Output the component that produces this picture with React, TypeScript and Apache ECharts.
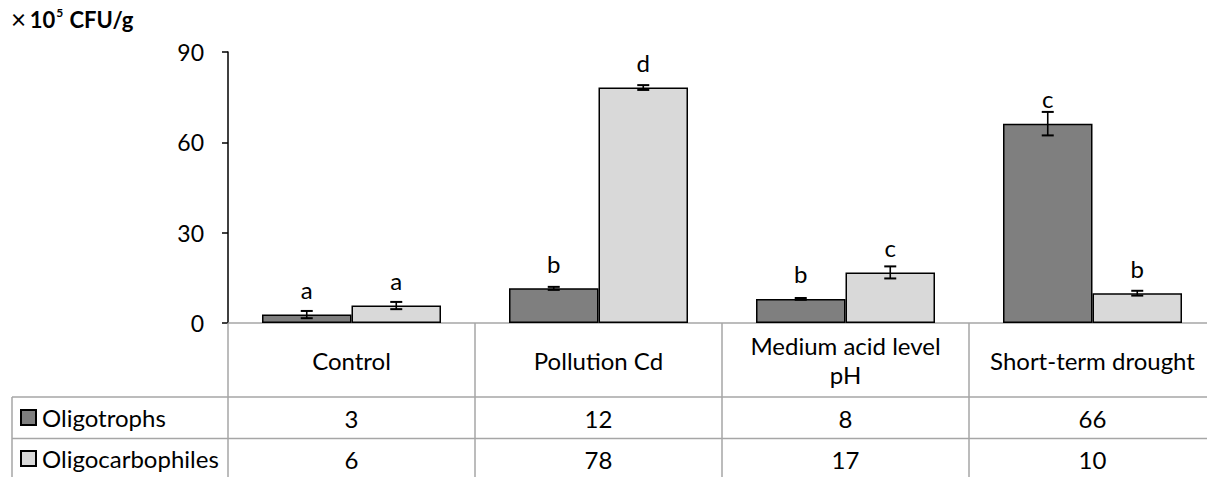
import React, { useEffect, useRef } from "react";
import * as echarts from "echarts";

const categories = ["Control", "Pollution Cd", "Medium acid level\npH", "Short-term drought"];
const seriesNames = ["Oligotrophs", "Oligocarbophiles"];
const oligotrophs = [2.8, 11.5, 8.0, 66.2];
const oligocarbophiles = [5.8, 78.2, 16.8, 9.9];
const errOligotrophs = [1.2, 0.5, 0.3, 3.9];
const errOligocarbophiles = [1.2, 0.8, 2.0, 0.8];
const lettersOligotrophs = ["a", "b", "b", "c"];
const lettersOligocarbophiles = ["a", "d", "c", "b"];
const yTicks = { min: 0, max: 90, interval: 30 };

const FONT = "Lato";
const GRAY = "#a6a6a6";
const DARK = "#7f7f7f";
const LIGHT = "#d9d9d9";
const TABLE_FS = 24;
const CHART_W = 1232;

function errorSeries(values: number[], errs: number[], side: number) {
  return {
    type: "custom",
    z: 5,
    silent: true,
    data: values.map((v, i) => [i, v, errs[i]]),
    encode: { x: 0, y: 1 },
    renderItem: (params: any, api: any) => {
      const idx = api.value(0);
      const v = api.value(1);
      const e = api.value(2);
      const c = api.coord([idx, v]);
      const catW = api.size([1, 0])[0];
      const x = c[0] + side * catW * 0.1812;
      const yt = api.coord([idx, v + e])[1];
      const yb = api.coord([idx, v - e])[1];
      const hw = 6;
      const st = { stroke: "#000", lineWidth: 1.6 };
      const cap = { stroke: "#000", lineWidth: 2 };
      return {
        type: "group",
        children: [
          { type: "line", shape: { x1: x, y1: yt, x2: x, y2: yb }, style: st },
          { type: "line", shape: { x1: x - hw, y1: yt, x2: x + hw, y2: yt }, style: cap },
          { type: "line", shape: { x1: x - hw, y1: yb, x2: x + hw, y2: yb }, style: cap },
        ],
      };
    },
  };
}

function valueAxis(values: number[], margin: number) {
  return {
    type: "category",
    gridIndex: 0,
    position: "bottom",
    data: categories,
    axisLine: { show: false },
    axisTick: { show: false },
    splitLine: { show: false },
    axisLabel: {
      interval: 0,
      margin,
      verticalAlign: "middle",
      fontFamily: FONT,
      fontSize: TABLE_FS,
      color: "#000",
      formatter: (_v: string, idx: number) => String(Math.round(values[idx])),
    },
  };
}

export default function App() {
  const ref = useRef<HTMLDivElement>(null);
  useEffect(() => {
    if (!ref.current) return;
    const chart = echarts.init(ref.current, undefined, { renderer: "svg" });
    const legendCommon = {
      orient: "vertical",
      left: 20,
      padding: 0,
      itemWidth: 15,
      itemHeight: 15,
      icon: "rect",
      selectedMode: false,
      textStyle: { fontFamily: FONT, fontSize: TABLE_FS, color: "#000", lineHeight: 24, padding: [0, 0, 0, 1] },
    };
    chart.setOption({
      animation: false,
      grid: { left: 228, width: 988, top: 52, bottom: 154, containLabel: false },
      legend: [
        { ...legendCommon, data: [seriesNames[0]], top: 405.5 },
        { ...legendCommon, data: [seriesNames[1]], top: 446.5 },
      ],
      xAxis: [
        {
          type: "category",
          data: categories,
          position: "bottom",
          axisLine: { show: true, lineStyle: { color: GRAY, width: 1.5 } },
          axisTick: { show: true, interval: 0, length: 160, lineStyle: { color: GRAY, width: 1.5 } },
          axisLabel: {
            interval: 0,
            margin: 37,
            verticalAlign: "middle",
            lineHeight: 29,
            fontFamily: FONT,
            fontSize: TABLE_FS,
            color: "#000",
          },
          splitLine: { show: false },
        },
        valueAxis(oligotrophs, 95),
        valueAxis(oligocarbophiles, 136),
      ],
      yAxis: {
        type: "value",
        min: yTicks.min,
        max: yTicks.max,
        interval: yTicks.interval,
        axisLine: { show: true, lineStyle: { color: "#000", width: 1.5 } },
        axisTick: { show: true, length: 6, lineStyle: { color: "#000", width: 1.5 } },
        axisLabel: { margin: 24, fontFamily: FONT, fontSize: 23, color: "#000" },
        splitLine: { show: false },
      },
      series: [
        {
          name: seriesNames[0],
          type: "bar",
          data: oligotrophs,
          barWidth: 89.5,
          barGap: "0%",
          itemStyle: { color: DARK, borderColor: "#000", borderWidth: 1.5 },
          label: {
            show: true,
            position: "top",
            distance: 13,
            fontFamily: FONT,
            fontSize: 24,
            color: "#000",
            formatter: (p: any) => lettersOligotrophs[p.dataIndex],
          },
        },
        {
          name: seriesNames[1],
          type: "bar",
          data: oligocarbophiles,
          barWidth: 89.5,
          barGap: "0%",
          itemStyle: { color: LIGHT, borderColor: "#000", borderWidth: 1.5 },
          label: {
            show: true,
            position: "top",
            distance: 13,
            fontFamily: FONT,
            fontSize: 24,
            color: "#000",
            formatter: (p: any) => lettersOligocarbophiles[p.dataIndex],
          },
        },
        errorSeries(oligotrophs, errOligotrophs, -1),
        errorSeries(oligocarbophiles, errOligocarbophiles, 1),
      ],
      graphic: [
        {
          type: "text",
          left: 11,
          top: 6,
          style: {
            text: "{x|×}{g| }{b|10}{s|5}{b| CFU/g}",
            rich: {
              x: { fontFamily: FONT, fontSize: 26, color: "#000", verticalAlign: "bottom" },
              g: { fontFamily: FONT, fontSize: 14 },
              b: { fontFamily: FONT, fontSize: 22, fontWeight: "bold", color: "#000" },
              s: { fontFamily: FONT, fontSize: 12, fontWeight: "bold", color: "#000", verticalAlign: "top", padding: [0, 1, 8, 1] },
            },
          },
        },
        { type: "line", shape: { x1: 12, y1: 397, x2: CHART_W, y2: 397 }, style: { stroke: GRAY, lineWidth: 1.5 } },
        { type: "line", shape: { x1: 12, y1: 438.5, x2: CHART_W, y2: 438.5 }, style: { stroke: GRAY, lineWidth: 1.5 } },
        { type: "line", shape: { x1: 12, y1: 397, x2: 12, y2: 477 }, style: { stroke: GRAY, lineWidth: 1.5 } },
      ],
    });
    return () => chart.dispose();
  }, []);
  return (
    <div style={{ width: 1207, height: 477, position: "absolute", left: 0, top: 0, overflow: "hidden" }}>
      <div ref={ref} style={{ width: CHART_W, height: 477, position: "absolute", left: 0, top: 0 }} />
    </div>
  );
}
